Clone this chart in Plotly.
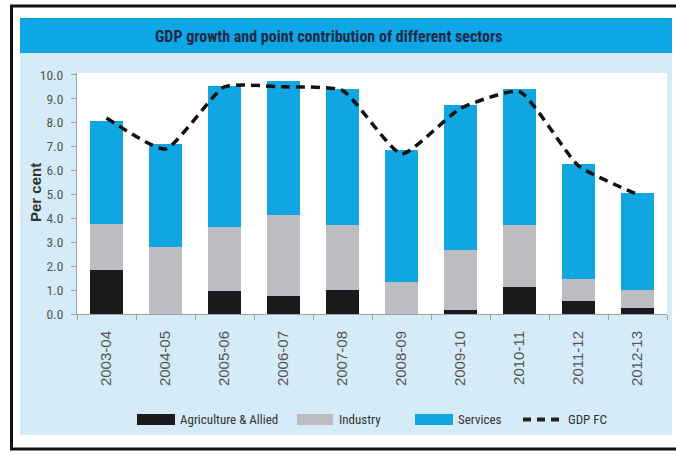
import plotly.graph_objects as go

years = ["2003-04", "2004-05", "2005-06", "2006-07", "2007-08",
         "2008-09", "2009-10", "2010-11", "2011-12", "2012-13"]
agriculture = [1.83, 0.0, 0.97, 0.76, 1.00, 0.0, 0.15, 1.15, 0.55, 0.24]
industry = [1.94, 2.79, 2.66, 3.40, 2.74, 1.32, 2.53, 2.59, 0.91, 0.78]
services = [4.31, 4.34, 5.91, 5.60, 5.66, 5.56, 6.06, 5.66, 4.83, 4.03]
gdp_fc = [8.2, 6.9, 9.5, 9.5, 9.35, 6.7, 8.6, 9.3, 6.2, 5.0]
y_ticks = [0, 1, 2, 3, 4, 5, 6, 7, 8, 9, 10]

W, H = 676, 455
L, R, T, B = 77, 9, 73, 141
PW, PH = W - L - R, H - T - B

def px(x):
    return (x - L) / PW

def py(y):
    return (H - B - y) / PH

C_AGRI = "#1b1b1d"
C_IND = "#bcbdc0"
C_SERV = "#0fa6e2"
NARROW = "Roboto Condensed, Liberation Sans Narrow, DejaVu Sans Condensed, sans-serif"

fig = go.Figure()
fig.add_bar(x=years, y=agriculture, name="Agriculture & Allied", marker_color=C_AGRI, marker_line_width=0)
fig.add_bar(x=years, y=industry, name="Industry", marker_color=C_IND, marker_line_width=0)
fig.add_bar(x=years, y=services, name="Services", marker_color=C_SERV, marker_line_width=0)
fig.add_scatter(x=years, y=gdp_fc, name="GDP FC", mode="lines",
                line=dict(color="#111111", width=3.5, dash="9px,6px", shape="spline", smoothing=0.5))

shapes = [
    # outer frame
    dict(type="rect", xref="paper", yref="paper", x0=px(11.5), x1=px(700), y0=py(449), y1=py(6),
         line=dict(color="#111111", width=3), fillcolor="white", layer="below"),
    # light blue panel
    dict(type="rect", xref="paper", yref="paper", x0=px(20), x1=px(672), y0=py(435), y1=py(18),
         line=dict(width=0), fillcolor="#d5ebf8", layer="below"),
    # title bar
    dict(type="rect", xref="paper", yref="paper", x0=px(20), x1=px(672), y0=py(53), y1=py(18),
         line=dict(width=0), fillcolor="#0ea7e6", layer="below"),
    # white plot area
    dict(type="rect", xref="paper", yref="paper", x0=0, x1=1, y0=0, y1=1,
         line=dict(width=0), fillcolor="white", layer="below"),
]

# manual legend
leg_y = 419.5
legend_items = [
    (137, 175, 178, "Agriculture & Allied", C_AGRI),
    (297, 333, 337, "Industry", C_IND),
    (415, 453, 456, "Services", C_SERV),
]
annotations = []
for x0, x1, tx, label, col in legend_items:
    shapes.append(dict(type="rect", xref="paper", yref="paper", x0=px(x0), x1=px(x1),
                       y0=py(leg_y + 5.5), y1=py(leg_y - 5.5), line=dict(width=0), fillcolor=col))
    annotations.append(dict(xref="paper", yref="paper", x=px(tx), y=py(leg_y), text=label,
                            showarrow=False, xanchor="left", yanchor="middle",
                            font=dict(family=NARROW, size=13, color="#333333")))
shapes.append(dict(type="line", xref="paper", yref="paper", x0=px(523), x1=px(562),
                   y0=py(leg_y), y1=py(leg_y), line=dict(color="#222222", width=4, dash="8px,6px")))
annotations.append(dict(xref="paper", yref="paper", x=px(566), y=py(leg_y), text="GDP FC",
                        showarrow=False, xanchor="left", yanchor="middle",
                        font=dict(family=NARROW, size=13, color="#333333")))

# title
annotations.append(dict(xref="paper", yref="paper", x=px(328), y=py(36),
                        text="<b>GDP growth and point contribution of different sectors</b>",
                        showarrow=False, xanchor="center", yanchor="middle",
                        font=dict(family=NARROW, size=16, color="#1c2a48")))
# y axis title
annotations.append(dict(xref="paper", yref="paper", x=px(35), y=py(193), text="<b>Per cent</b>",
                        showarrow=False, textangle=-90, xanchor="center", yanchor="middle",
                        font=dict(family="Liberation Sans, Arial, sans-serif", size=15, color="#333333")))

fig.update_layout(
    width=W, height=H,
    margin=dict(l=L, r=R, t=T, b=B, pad=0),
    barmode="stack", bargap=0.45,
    paper_bgcolor="white", plot_bgcolor="white",
    showlegend=False,
    shapes=shapes, annotations=annotations,
    xaxis=dict(type="category", showline=True, linecolor="#a0a0a0", linewidth=1,
               ticks="outside", tickson="boundaries", ticklen=5, tickcolor="#a0a0a0",
               tickangle=-90, ticklabelstandoff=10, showgrid=False, zeroline=False,
               tickfont=dict(family="Liberation Sans, Arial, sans-serif", size=15, color="#555555")),
    yaxis=dict(range=[0, 10.08], tickvals=y_ticks, tickformat=".1f", showline=True,
               linecolor="#a0a0a0", linewidth=1, ticks="outside", ticklen=5, tickcolor="#a0a0a0",
               showgrid=False, zeroline=False, ticklabelstandoff=5,
               tickfont=dict(family=NARROW, size=13.5, color="#555555")),
)

fig.write_html("out.html")
